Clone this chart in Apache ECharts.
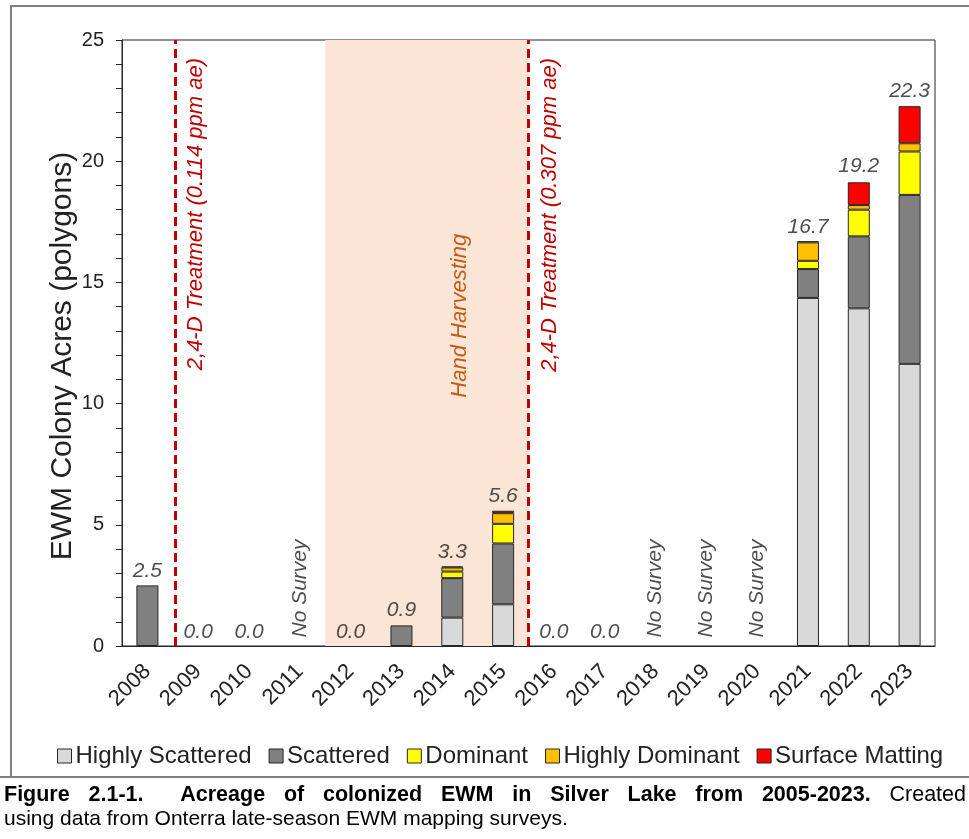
<!DOCTYPE html>
<html>
<head>
<meta charset="utf-8">
<script src="https://cdn.jsdelivr.net/npm/echarts@6/dist/echarts.min.js"></script>
<style>
  html, body { margin: 0; padding: 0; background: #fff; }
  body { width: 969px; height: 839px; position: relative; overflow: hidden; font-family: 'Liberation Sans', Arial, sans-serif; }
  #frame { position: absolute; left: 10px; top: 5px; width: 980px; height: 771px; border-top: 2px solid #7f7f7f; border-left: 2px solid #7f7f7f; box-sizing: border-box; }
  #chart { position: absolute; left: 0; top: 0; width: 969px; height: 839px; }
  #caption { position: absolute; left: 0; top: 776px; width: 969px; border-top: 2px solid #7f7f7f; padding: 4px 3px 0 4px; box-sizing: border-box; font-size: 21px; line-height: 24px; color: #000; }
  #caption .l1 { text-align: justify; text-align-last: justify; white-space: nowrap; font-size: 21.5px; }
</style>
</head>
<body>
<div id="frame"></div>
<div id="chart"></div>
<div id="caption"><div class="l1"><b>Figure 2.1-1.&nbsp; Acreage of colonized EWM in Silver Lake from 2005-2023.</b> Created</div><div>using data from Onterra late-season EWM mapping surveys.</div></div>
<script>
// survey years
const years = ['2008', '2009', '2010', '2011', '2012', '2013', '2014', '2015',
  '2016', '2017', '2018', '2019', '2020', '2021', '2022', '2023']

// acres per colony type
const highlyScattered = [0, 0, 0, 0, 0, 0, 1.17, 1.72, 0, 0, 0, 0, 0, 14.36, 13.93, 11.64]
const scattered       = [2.5, 0, 0, 0, 0, 0.85, 1.63, 2.51, 0, 0, 0, 0, 0, 1.19, 2.97, 6.97]
const dominant        = [0, 0, 0, 0, 0, 0, 0.27, 0.81, 0, 0, 0, 0, 0, 0.34, 1.10, 1.79]
const highlyDominant  = [0, 0, 0, 0, 0, 0, 0.17, 0.44, 0, 0, 0, 0, 0, 0.76, 0.19, 0.34]
const surfaceMatting  = [0, 0, 0, 0, 0, 0, 0.04, 0.10, 0, 0, 0, 0, 0, 0.05, 0.94, 1.53]

// labelled totals (null = not surveyed)
const totals = [2.5, 0.0, 0.0, null, 0.0, 0.9, 3.3, 5.6, 0.0, 0.0, null, null, null, 16.7, 19.2, 22.3]
const noSurveyYears = ['2011', '2018', '2019', '2020']

// management events, positioned on category boundaries
const treatmentAt = [1.04, 8]
const treatmentLabels = ['2,4-D Treatment (0.114 ppm ae)', '2,4-D Treatment (0.307 ppm ae)']
const harvestSpan = [4, 8]
const harvestLabel = 'Hand Harvesting'

const FONT = "'Liberation Sans', Arial, sans-serif"
const chart = echarts.init(document.getElementById('chart'))

function barSeries(name, values, color) {
  return {
    name: name,
    type: 'bar',
    stack: 'acres',
    xAxisIndex: 0,
    barWidth: 22,
    z: 3,
    itemStyle: { color: color, borderColor: '#262626', borderWidth: 1 },
    data: values.map(v => v > 0 ? v : '-')
  }
}

const option = {
  animation: false,
  textStyle: { fontFamily: FONT },
  grid: {
    left: 122, right: 34, top: 40, bottom: 193,
    show: true, borderColor: '#262626', borderWidth: 1
  },
  legend: {
    left: 52, top: 739,
    icon: 'rect',
    itemWidth: 14, itemHeight: 14,
    itemGap: 17,
    itemStyle: { borderColor: '#262626', borderWidth: 1 },
    textStyle: { fontSize: 24, color: '#222', fontFamily: FONT, padding: [0, 0, 0, -1] },
    data: ['Highly Scattered', 'Scattered', 'Dominant', 'Highly Dominant', 'Surface Matting']
  },
  xAxis: [
    {
      type: 'category',
      data: years,
      axisLine: { lineStyle: { color: '#262626', width: 1 } },
      axisTick: { length: 6, lineStyle: { color: '#262626' } },
      axisLabel: { rotate: 45, interval: 0, fontSize: 22, color: '#222', margin: 22 }
    },
    { type: 'value', min: 0, max: years.length, show: false }
  ],
  yAxis: {
    type: 'value',
    min: 0, max: 25, interval: 5,
    name: 'EWM Colony Acres (polygons)',
    nameLocation: 'middle',
    nameGap: 44,
    nameMoveOverlap: false,
    nameTextStyle: { fontSize: 30, color: '#222', padding: [0, 26, 0, 0] },
    axisLine: { show: true, lineStyle: { color: '#262626' } },
    axisTick: { show: true, length: 6, lineStyle: { color: '#262626' } },
    minorTick: { show: true, splitNumber: 5, length: 6, lineStyle: { color: '#262626' } },
    splitLine: { show: false },
    axisLabel: { fontSize: 20, color: '#222', margin: 18 }
  },
  series: [
    {
      // events overlay: harvesting band + treatment lines
      type: 'line',
      xAxisIndex: 1,
      data: [],
      z: 1,
      markArea: {
        silent: true,
        itemStyle: { color: '#fbe5d6' },
        label: {
          show: true,
          position: ['66%', '45.5%'],
          rotate: 90,
          align: 'center',
          verticalAlign: 'middle',
          fontSize: 22,
          fontStyle: 'italic',
          color: '#c55a11',
          formatter: harvestLabel
        },
        data: [[{ xAxis: harvestSpan[0] }, { xAxis: harvestSpan[1] }]]
      },
      markLine: {
        silent: true,
        symbol: 'none',
        lineStyle: { color: '#c00000', type: [9, 5], width: 3 },
        label: {
          show: true,
          position: 'insideEndBottom',
          distance: 10,
          padding: [0, 8, 0, 0],
          fontSize: 22,
          fontStyle: 'italic',
          color: '#c00000'
        },
        data: treatmentAt.map((x, i) => ({ xAxis: x, label: { formatter: treatmentLabels[i] } }))
      }
    },
    barSeries('Highly Scattered', highlyScattered, '#d9d9d9'),
    barSeries('Scattered', scattered, '#808080'),
    barSeries('Dominant', dominant, '#ffff00'),
    barSeries('Highly Dominant', highlyDominant, '#ffc000'),
    barSeries('Surface Matting', surfaceMatting, '#ff0000'),
    {
      // total labels
      type: 'scatter',
      xAxisIndex: 0,
      symbolSize: 1,
      z: 5,
      itemStyle: { color: 'rgba(0,0,0,0)' },
      label: {
        show: true,
        position: 'top',
        distance: 3,
        fontSize: 21,
        fontStyle: 'italic',
        color: '#222',
        formatter: p => p.value.toFixed(1)
      },
      data: totals.map(v => v == null ? '-' : v)
    },
    {
      // "No Survey" markers
      type: 'scatter',
      xAxisIndex: 0,
      symbolSize: 1,
      z: 5,
      itemStyle: { color: 'rgba(0,0,0,0)' },
      label: {
        show: true,
        position: 'top',
        distance: 8,
        rotate: 90,
        align: 'left',
        verticalAlign: 'middle',
        fontSize: 21,
        fontStyle: 'italic',
        color: '#222',
        formatter: 'No Survey'
      },
      data: years.map(y => noSurveyYears.includes(y) ? 0 : '-')
    }
  ]
}

chart.setOption(option)
</script>
</body>
</html>
